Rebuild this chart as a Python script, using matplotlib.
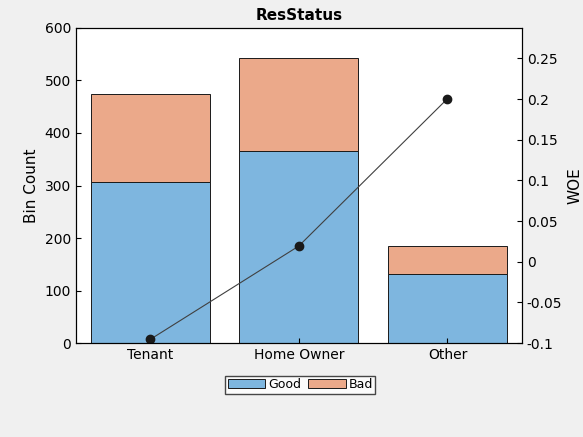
import matplotlib.pyplot as plt
import numpy as np

categories = ['Tenant', 'Home Owner', 'Other']
good = [307, 365, 131]
bad = [167, 177, 53]
woe = [-0.0956, 0.0193, 0.2005]

fig = plt.figure(figsize=(5.83, 4.37), dpi=100, facecolor='#f0f0f0')
ax = fig.add_axes([0.130, 0.215, 0.765, 0.721])
x = np.arange(1, len(categories) + 1)
ax.bar(x, good, width=0.8, color='#7eb6df', edgecolor='#1a1a1a', linewidth=0.7, label='Good')
ax.bar(x, bad, bottom=good, width=0.8, color='#eba98a', edgecolor='#1a1a1a', linewidth=0.7, label='Bad')
ax.set_xlim(0.5, 3.5)
ax.set_ylim(0, 600)
ax.set_xticks(x)
ax.set_xticklabels(categories)
ax.set_ylabel('Bin Count', fontsize=11)
ax.set_title('ResStatus', fontsize=11, fontweight='bold')
ax.tick_params(direction='in', labelsize=10)

ax2 = ax.twinx()
ax2.plot(x, woe, color='#404040', linewidth=0.8, marker='o', markersize=6,
         markerfacecolor='#1a1a1a', markeredgecolor='#1a1a1a')
ax2.set_ylim(-0.1, 0.2875)
ax2.set_yticks([-0.1, -0.05, 0, 0.05, 0.1, 0.15, 0.2, 0.25])
ax2.set_yticklabels(['-0.1', '-0.05', '0', '0.05', '0.1', '0.15', '0.2', '0.25'])
ax2.set_ylabel('WOE', fontsize=11)
ax2.tick_params(direction='in', labelsize=10)

fig.legend(loc='center', bbox_to_anchor=(0.515, 0.12), ncol=2, fontsize=9,
           frameon=True, fancybox=False, edgecolor='#1a1a1a', handlelength=3,
           handletextpad=0.2, columnspacing=0.6, borderpad=0.2)
fig.savefig('out.png', dpi=100, facecolor=fig.get_facecolor())
